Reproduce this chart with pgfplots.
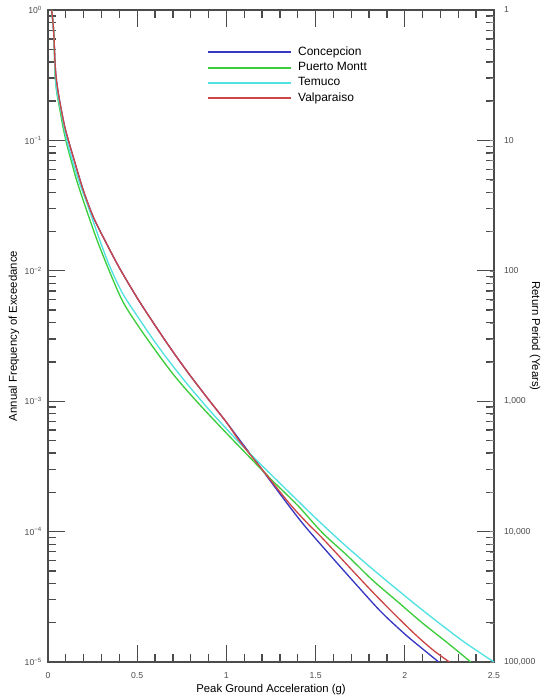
\documentclass[border=0pt]{standalone}
\usepackage{fontspec}
\setmainfont{Liberation Sans}
\usepackage{pgfplots}
\pgfplotsset{compat=1.18}
\definecolor{cblue}{RGB}{55,55,195}
\definecolor{cgreen}{RGB}{60,205,60}
\definecolor{ccyan}{RGB}{80,225,225}
\definecolor{cred}{RGB}{205,70,70}
\definecolor{axgray}{RGB}{75,75,75}
\begin{document}
\begin{tikzpicture}
\begin{axis}[
    scale only axis, width=334.5pt, height=489pt,
    xmin=0, xmax=2.5, ymode=log, ymin=1e-5, ymax=1,
    xtick={0,0.5,1,1.5,2,2.5}, xticklabels={0,0.5,1,1.5,2,2.5},
    minor x tick num=4,
    ytick={1e-5,1e-4,1e-3,1e-2,1e-1,1},
    yticklabels={10\textsuperscript{−5},10\textsuperscript{−4},10\textsuperscript{−3},10\textsuperscript{−2},10\textsuperscript{−1},10\textsuperscript{0}},
    minor ytick={2e-5,3e-5,4e-5,5e-5,6e-5,7e-5,8e-5,9e-5,
                 2e-4,3e-4,4e-4,5e-4,6e-4,7e-4,8e-4,9e-4,
                 2e-3,3e-3,4e-3,5e-3,6e-3,7e-3,8e-3,9e-3,
                 2e-2,3e-2,4e-2,5e-2,6e-2,7e-2,8e-2,9e-2,
                 0.2,0.3,0.4,0.5,0.6,0.7,0.8,0.9},
    tick align=inside, major tick length=13pt, minor tick length=6pt,
    axis line style={axgray, line width=1.1pt},
    every tick/.style={axgray, line width=1pt},
    ticklabel style={font=\fontsize{6.5}{7}\selectfont, text=axgray},
    xticklabel style={yshift=-4pt},
    yticklabel style={xshift=-1pt},
    xlabel={Peak Ground Acceleration (g)},
    ylabel={Annual Frequency of Exceedance},
    label style={font=\fontsize{8.5}{10}\selectfont},
    xlabel style={at={(axis description cs:0.5,0)}, yshift=-21pt, anchor=center},
    ylabel style={at={(axis description cs:-0.0762,0.5)}, anchor=center},
    legend style={at={(axis description cs:0.357,0.948)}, anchor=north west,
        draw=none, fill=none, font=\fontsize{9}{10.5}\selectfont, inner sep=0pt,
        row sep=-0.3pt, column sep=3pt},
    legend cell align=left,
    legend image code/.code={\draw[#1, line width=1.5pt] plot coordinates {(0pt,0pt) (61.5pt,0pt)};},
    every axis plot/.append style={line width=1pt, smooth, tension=0.5},
]
\addplot[color=cblue] coordinates {
(0.020,1.0) (0.028,0.80) (0.034,0.60) (0.039,0.40) (0.046,0.30) (0.058,0.229)
(0.075,0.17) (0.095,0.125) (0.12,0.094) (0.141,0.075) (0.197,0.0417) (0.253,0.026)
(0.318,0.0172) (0.40,0.01054) (0.505,0.00604) (0.607,0.00369) (0.70,0.00240)
(0.793,0.00160) (0.90,0.00103) (1.0,6.9e-4) (1.073,5.07e-4) (1.17,3.39e-4)
(1.259,2.32e-4) (1.35,1.58e-4) (1.445,1.08e-4) (1.60,6.17e-5) (1.743,3.72e-5)
(1.87,2.40e-5) (2.004,1.62e-5) (2.10,1.26e-5) (2.19,1.0e-5)
};
\addlegendentry{Concepcion}
\addplot[color=cgreen] coordinates {
(0.020,1.0) (0.028,0.80) (0.034,0.60) (0.040,0.316) (0.050,0.23) (0.067,0.171)
(0.085,0.125) (0.104,0.095) (0.13,0.07) (0.16,0.0497) (0.216,0.0292) (0.275,0.0172)
(0.35,0.0095) (0.421,0.00575) (0.51,0.0037) (0.607,0.0024) (0.70,0.00162)
(0.793,0.001148) (0.90,7.94e-4) (1.0,5.69e-4) (1.13,3.72e-4) (1.259,2.45e-4)
(1.40,1.585e-4) (1.538,9.8e-5) (1.68,6.5e-5) (1.817,4.27e-5) (1.96,2.9e-5)
(2.097,2.0e-5) (2.24,1.4e-5) (2.37,1.0e-5)
};
\addlegendentry{Puerto Montt}
\addplot[color=ccyan] coordinates {
(0.020,1.0) (0.028,0.80) (0.034,0.60) (0.040,0.325) (0.050,0.235) (0.070,0.174)
(0.107,0.098) (0.165,0.0525) (0.225,0.031) (0.29,0.0172) (0.35,0.0105)
(0.421,0.0066) (0.51,0.0043) (0.607,0.00275) (0.70,0.00186) (0.793,0.00129)
(0.90,8.7e-4) (0.979,6.6e-4) (1.073,4.8e-4) (1.20,3.2e-4) (1.352,2.0e-4)
(1.50,1.27e-4) (1.65,8.2e-5) (1.80,5.43e-5) (1.94,3.76e-5) (2.07,2.69e-5)
(2.20,1.95e-5) (2.34,1.40e-5) (2.50,1.0e-5)
};
\addlegendentry{Temuco}
\addplot[color=cred] coordinates {
(0.020,1.0) (0.028,0.80) (0.034,0.60) (0.039,0.40) (0.046,0.30) (0.058,0.229)
(0.075,0.17) (0.095,0.125) (0.12,0.094) (0.141,0.075) (0.197,0.0417) (0.253,0.026)
(0.318,0.0172) (0.40,0.01054) (0.505,0.00604) (0.607,0.00369) (0.70,0.00240)
(0.793,0.00160) (0.90,0.00103) (1.0,6.9e-4) (1.073,4.95e-4) (1.20,3.0e-4)
(1.352,1.65e-4) (1.45,1.175e-4) (1.538,8.9e-5) (1.68,5.5e-5) (1.817,3.47e-5)
(1.94,2.34e-5) (2.06,1.62e-5) (2.16,1.23e-5) (2.25,1.0e-5)
};
\addlegendentry{Valparaiso}
\coordinate (bbsw) at (axis description cs:-0.1076,-0.0583);
\coordinate (bbne) at (axis description cs:1.1323,1.0153);
\end{axis}
\begin{axis}[
    scale only axis, width=334.5pt, height=489pt,
    xmin=0, xmax=2.5, ymode=log, ymin=1e-5, ymax=1,
    hide x axis, axis y line*=right,
    axis line style={draw=none},
    ytick={1e-5,1e-4,1e-3,1e-2,1e-1,1},
    yticklabels={100{,}000,10{,}000,1{,}000,100,10,1},
    minor ytick={}, major tick length=0pt,
    yticklabel style={font=\fontsize{6.5}{7}\selectfont, text=axgray, xshift=4pt},
    ylabel={Return Period (Years)},
    ylabel style={font=\fontsize{8.5}{10}\selectfont, at={(axis description cs:1.092,0.5)}, anchor=center, rotate=180},
]
\end{axis}
\path[use as bounding box] (bbsw) rectangle (bbne);
\end{tikzpicture}
\end{document}
